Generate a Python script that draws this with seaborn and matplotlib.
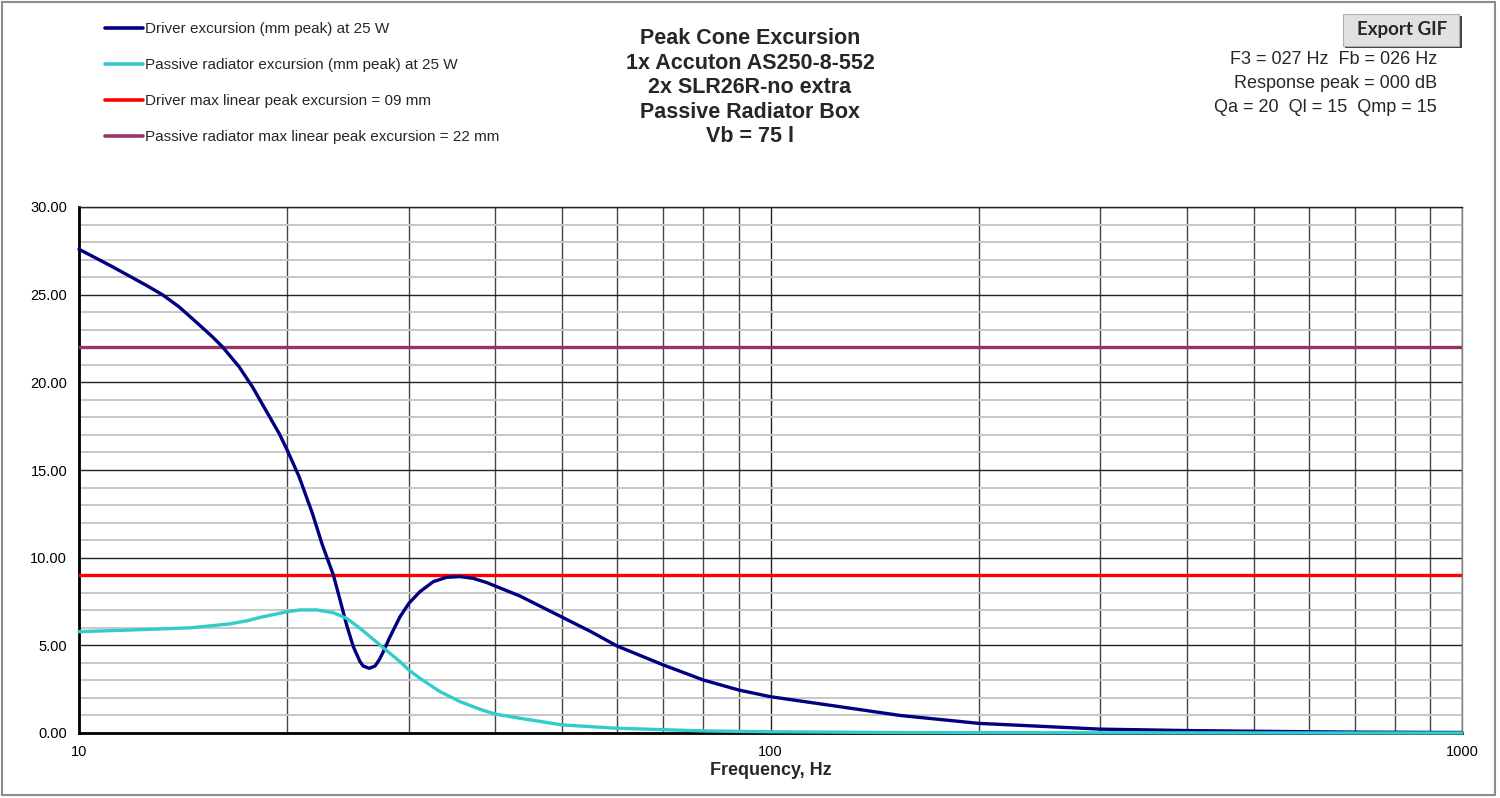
import numpy as np
import pandas as pd
import matplotlib
matplotlib.use("Agg")
import matplotlib.pyplot as plt
import matplotlib.ticker as mticker
from matplotlib.lines import Line2D
from matplotlib.patches import Rectangle
import seaborn as sns

# -------------------------------
# Data
# -------------------------------
driver_freq = [10, 11.17, 12.49, 13.2, 13.95, 14.75, 15.59, 16.12, 17.04, 17.81, 18.62,
               19.47, 20, 20.81, 21.75, 22.49, 23.33, 23.85, 24.38, 24.93, 25.49, 25.76,
               26.29, 26.8, 27.2, 27.55, 28.17, 29.12, 30, 31.12, 32.53, 34.01, 35.56,
               37.17, 38.87, 40, 43.43, 50, 55, 60, 70, 80, 90, 100, 126, 154, 200, 300,
               400, 500, 700, 1000]
driver_mm = [27.59, 26.6, 25.55, 25.0, 24.31, 23.46, 22.6, 22.03, 20.89, 19.75, 18.42,
             17.09, 16.14, 14.62, 12.53, 10.72, 9.0, 7.59, 6.16, 4.92, 4.07, 3.82,
             3.69, 3.82, 4.2, 4.64, 5.49, 6.63, 7.40, 8.06, 8.63, 8.88, 8.92,
             8.82, 8.58, 8.38, 7.81, 6.6, 5.78, 4.96, 3.88, 3.02, 2.45, 2.07, 1.5, 1.0, 0.55, 0.22,
             0.14, 0.1, 0.05, 0.03]

pr_freq = [10, 12, 14.5, 16.5, 17.5, 18.3, 19.53, 20, 20.87, 22.07, 23.33, 24.38, 25.49,
           26.65, 27.86, 29.12, 30, 31.12, 33.27, 35.56, 38.02, 40, 43.43, 50, 60, 80,
           100, 150, 200, 300, 1000]
pr_mm = [5.78, 5.88, 6.0, 6.22, 6.4, 6.6, 6.83, 6.92, 7.02, 7.02, 6.86, 6.54, 5.97,
         5.34, 4.70, 4.07, 3.59, 3.12, 2.36, 1.79, 1.35, 1.08, 0.84, 0.46, 0.27, 0.12,
         0.07, 0.03, 0.02, 0.01, 0.0]

driver_xmax = 9
pr_xmax = 22

labels = ["Driver excursion (mm peak) at 25 W",
          "Passive radiator excursion (mm peak) at 25 W",
          "Driver max linear peak excursion = 09 mm",
          "Passive radiator max linear peak excursion = 22 mm"]
colors = ["#000080", "#33CCCC", "#FF0000", "#993366"]

title_lines = ["Peak Cone Excursion", "1x Accuton AS250-8-552", "2x SLR26R-no extra",
               "Passive Radiator Box", "Vb = 75 l"]
info_lines = ["F3 = 027 Hz  Fb = 026 Hz", "Response peak = 000 dB", "Qa = 20  Ql = 15  Qmp = 15"]

x_ticks = [10, 100, 1000]
y_ticks = [0, 5, 10, 15, 20, 25, 30]

driver_df = pd.DataFrame({"freq": driver_freq, "mm": driver_mm})
pr_df = pd.DataFrame({"freq": pr_freq, "mm": pr_mm})

# -------------------------------
# Figure
# -------------------------------
sns.set_style("white")
plt.rcParams["font.family"] = ["Liberation Sans", "DejaVu Sans"]

W, H = 1500, 798
fig = plt.figure(figsize=(15, 7.98), dpi=100)
ax = fig.add_axes([79 / W, 1 - 733 / H, (1462 - 79) / W, (733 - 207) / H])

def fx(px):
    return px / W

def fy(py):
    return 1 - py / H

# limit lines (below curves)
ax.axhline(driver_xmax, color=colors[2], lw=2.4, zorder=3)
ax.axhline(pr_xmax, color=colors[3], lw=2.4, zorder=3)

sns.lineplot(data=driver_df, x="freq", y="mm", ax=ax, color=colors[0], lw=2.4,
             estimator=None, sort=True, zorder=5, clip_on=False,
             solid_joinstyle="round", solid_capstyle="round")
sns.lineplot(data=pr_df, x="freq", y="mm", ax=ax, color=colors[1], lw=2.4,
             estimator=None, sort=True, zorder=6, clip_on=False,
             solid_joinstyle="round", solid_capstyle="round")

ax.set_xscale("log")
ax.set_xlim(10, 1000)
ax.set_ylim(0, 30)

ax.xaxis.set_major_locator(mticker.FixedLocator(x_ticks))
ax.xaxis.set_major_formatter(mticker.FixedFormatter([str(t) for t in x_ticks]))
ax.xaxis.set_minor_locator(mticker.LogLocator(base=10, subs=np.arange(2, 10)))
ax.xaxis.set_minor_formatter(mticker.NullFormatter())
ax.yaxis.set_major_locator(mticker.FixedLocator(y_ticks))
ax.yaxis.set_major_formatter(mticker.FormatStrFormatter("%.2f"))
ax.yaxis.set_minor_locator(mticker.MultipleLocator(1))

ax.grid(True, which="major", axis="both", color="#222222", lw=1.0, zorder=1)
ax.grid(True, which="minor", axis="x", color="#444444", lw=1.0, zorder=1)
ax.grid(True, which="minor", axis="y", color="#c8c8c8", lw=1.4, zorder=0)
ax.set_axisbelow(True)

ax.tick_params(axis="both", which="major", direction="out", length=5, width=1.5,
               labelsize=10.5, colors="black")
ax.tick_params(axis="x", which="major", pad=4)
ax.tick_params(axis="both", which="minor", length=0)

for side in ["left", "bottom"]:
    ax.spines[side].set_color("black")
    ax.spines[side].set_linewidth(2)
ax.spines["top"].set_color("#222222")
ax.spines["top"].set_linewidth(1)
ax.spines["right"].set_color("#808080")
ax.spines["right"].set_linewidth(1)

ax.set_xlabel("Frequency, Hz", fontsize=13, fontweight="bold", labelpad=2)
ax.set_ylabel("")

# legend
handles = [Line2D([0], [0], color=c, lw=2.6) for c in colors]
fig.legend(handles, labels, loc="upper left", bbox_to_anchor=(fx(105), fy(22.5)),
           frameon=False, fontsize=11, handlelength=2.5, handletextpad=0.12,
           labelspacing=1.44, borderpad=0, borderaxespad=0)

# title block
title_y = [44, 69, 93, 118, 142]
for line, y in zip(title_lines, title_y):
    fig.text(fx(750), fy(y), line, ha="center", va="baseline",
             fontsize=15.5, fontweight="bold")

# info block on the right
info_y = [63.5, 87.5, 112.5]
for line, y in zip(info_lines, info_y):
    fig.text(fx(1437), fy(y), line, ha="right", va="baseline", fontsize=13)

# Export GIF button
fig.patches.append(Rectangle((fx(1345), fy(48)), (1462 - 1345) / W, (48 - 16) / H,
                             transform=fig.transFigure, facecolor="#404040",
                             edgecolor="none", zorder=1))
fig.patches.append(Rectangle((fx(1343), fy(46)), (1459 - 1343) / W, (46 - 14) / H,
                             transform=fig.transFigure, facecolor="#e1e1e1",
                             edgecolor="#b0b0b0", lw=0.8, zorder=2))
fig.text(fx(1402), fy(30), "Export GIF", ha="center", va="center",
         fontsize=13.5, fontweight="bold", family=["Lato", "DejaVu Sans"], zorder=3)

# outer chart border
fig.patches.append(Rectangle((fx(2), fy(795)), (1495 - 2) / W, (795 - 2) / H,
                             transform=fig.transFigure, facecolor="none",
                             edgecolor="#8c8c8c", lw=1.5))

fig.savefig("out.png", dpi=100)
